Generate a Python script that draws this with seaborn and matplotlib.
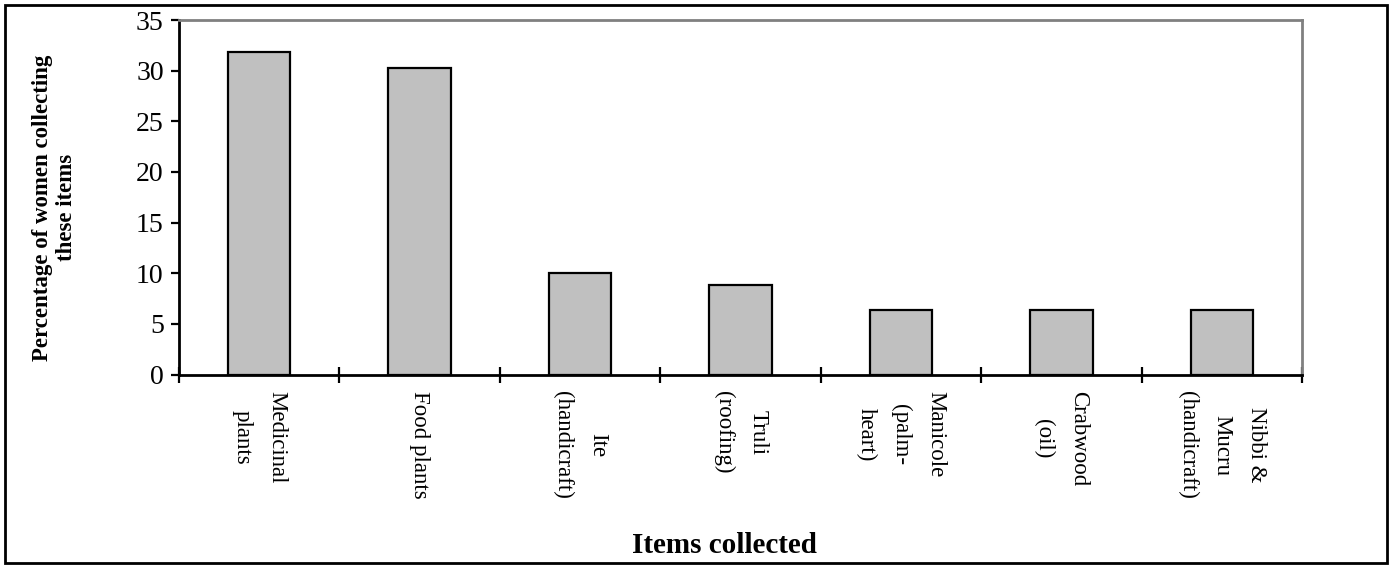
import matplotlib
matplotlib.use("Agg")
import matplotlib.pyplot as plt
from matplotlib.patches import Rectangle
from matplotlib.ticker import MultipleLocator, FixedLocator
import seaborn as sns
import pandas as pd

# Items collected by women and share of women collecting each
items = [
    "Medicinal\nplants",
    "Food plants",
    "Ite\n(handicraft)",
    "Truli\n(roofing)",
    "Manicole\n(palm-\nheart)",
    "Crabwood\n(oil)",
    "Nibbi &\nMucru\n(handicraft)",
]
percent = [31.8, 30.3, 10.0, 8.8, 6.4, 6.4, 6.4]

df = pd.DataFrame({"item": items, "percent": percent})

sns.set_theme(style="white")
plt.rcParams["font.family"] = ["Liberation Serif", "DejaVu Serif"]
plt.rcParams["text.color"] = "black"
plt.rcParams["axes.labelcolor"] = "black"
plt.rcParams["xtick.color"] = "black"
plt.rcParams["ytick.color"] = "black"

W, H, DPI = 1392, 568, 100
fig = plt.figure(figsize=(W / DPI, H / DPI), dpi=DPI)
ax = fig.add_axes([179 / W, 1 - 374.5 / H, (1302 - 179) / W, (374.5 - 20) / H])

sns.barplot(data=df, x="item", y="percent", color="#c0c0c0", width=0.39,
            edgecolor="black", linewidth=1.6, saturation=1, ax=ax)

ax.set_ylim(0, 35)
ax.set_xlim(-0.5, len(items) - 0.5)
ax.yaxis.set_major_locator(MultipleLocator(5))

# Spines: black axes lines, grey plot-area border
for side in ("left", "bottom"):
    ax.spines[side].set_color("black")
    ax.spines[side].set_linewidth(2)
for side in ("top", "right"):
    ax.spines[side].set_color("#808080")
    ax.spines[side].set_linewidth(2)

# Category labels under the bars, tick marks between categories
ax.set_xticks(range(len(items)))
ax.set_xticklabels(items, rotation=-90, ha="center", va="top",
                   multialignment="center", linespacing=1.85, fontsize=16.5)
ax.tick_params(axis="x", which="major", length=0, pad=12)
ax.xaxis.set_minor_locator(FixedLocator([i - 0.5 for i in range(len(items) + 1)]))
ax.tick_params(axis="x", which="minor", bottom=True, direction="inout",
               length=11, width=1.6, color="black")

ax.tick_params(axis="y", which="major", left=True, direction="out",
               length=6, width=1.6, color="black", labelsize=20, pad=5)

ax.set_ylabel("Percentage of women collecting\nthese items", fontsize=16.5,
              fontweight="bold", linespacing=1.15)
ax.yaxis.set_label_coords(-0.091, 0.47)
ax.set_xlabel("Items collected", fontsize=21, fontweight="bold")
ax.xaxis.set_label_coords(0.486, -0.445)

# Outer chart border
fig.patches.append(Rectangle((5 / W, 5 / H), (1387 - 5) / W, (563 - 5) / H,
                             transform=fig.transFigure, fill=False,
                             edgecolor="black", linewidth=2))

fig.savefig("out.png", dpi=DPI)
